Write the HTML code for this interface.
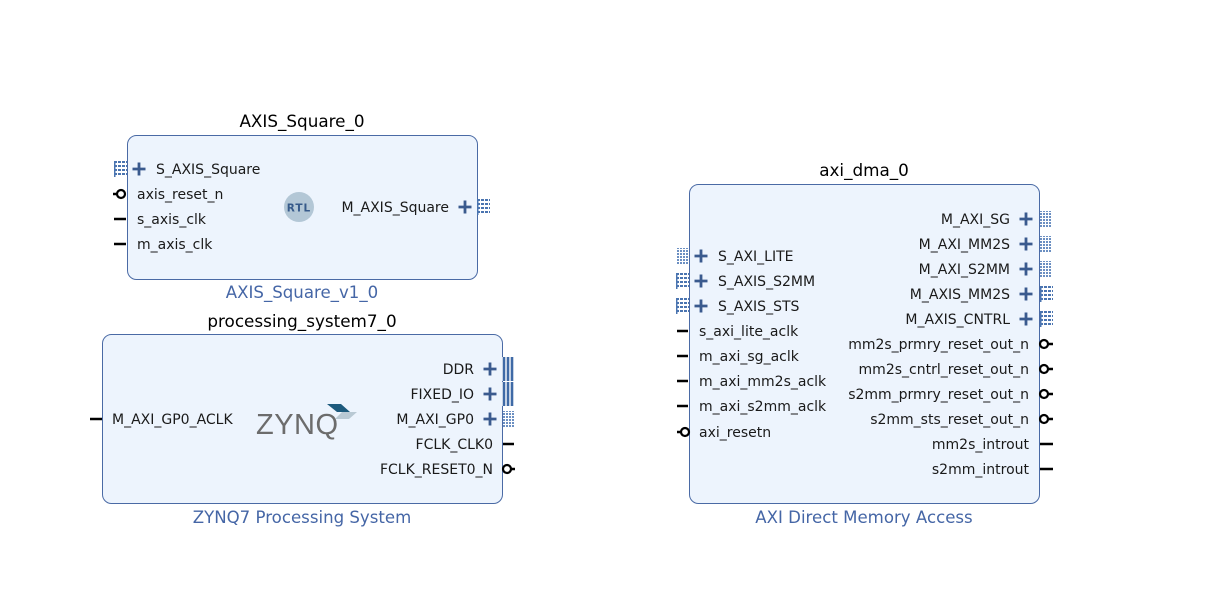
<!DOCTYPE html>
<html><head><meta charset="utf-8"><style>
html,body{margin:0;padding:0;background:#fff;}
svg{display:block;font-family:"DejaVu Sans","Liberation Sans",sans-serif;}
.p{font-size:14px;fill:#1a1a1a;}
.t{font-size:16.8px;fill:#000;text-anchor:middle;}
.s{font-size:16.6px;fill:#4566a6;text-anchor:middle;}
.r{text-anchor:end;}
.blk{fill:#edf4fd;stroke:#4a6aa5;stroke-width:1;}
</style></head><body>
<svg width="1217" height="612" viewBox="0 0 1217 612" xmlns="http://www.w3.org/2000/svg">
<defs>
<pattern id="dots" width="4" height="4" patternUnits="userSpaceOnUse">
<rect width="4" height="4" fill="#fff"/><rect width="3" height="2" fill="#4a74b0"/>
</pattern>
<pattern id="dots2" width="3" height="3" patternUnits="userSpaceOnUse">
<rect width="3" height="3" fill="#fff"/><rect width="2" height="2" fill="#6b8fc2"/>
</pattern>
<g id="plus"><path d="M-6.5 0H6.5M0 -6.5V6.5" stroke="#3a5a8e" stroke-width="2.8"/></g>
<g id="bus"><rect x="0" y="-8" width="13" height="16" fill="url(#dots)"/><rect x="0" y="-8" width="1.5" height="16" fill="#4a74b0"/></g>
<g id="busl"><rect x="0" y="-8" width="12" height="16" fill="url(#dots2)"/></g>
<g id="solid"><rect x="0" y="-12" width="13" height="24" fill="#fff"/><path d="M2 -12V12M6 -12V12M10 -12V12" stroke="#3f6aa6" stroke-width="2.6"/></g>
<g id="circ"><circle cx="0" cy="0" r="4" fill="#fff" stroke="#000" stroke-width="2.2"/></g>
</defs>

<!-- AXIS_Square_0 -->
<text class="t" x="302" y="127">AXIS_Square_0</text>
<rect class="blk" x="127.5" y="135.5" width="350" height="144" rx="9"/>
<text class="s" x="302" y="298">AXIS_Square_v1_0</text>
<use href="#bus" x="114" y="169"/><use href="#plus" x="139" y="169"/>
<text class="p" x="156" y="174">S_AXIS_Square</text>
<path d="M113 194H118" stroke="#000" stroke-width="2.5"/><use href="#circ" x="121" y="194"/>
<text class="p" x="137" y="199">axis_reset_n</text>
<path d="M114 219H126M114 244H126" stroke="#000" stroke-width="2.5"/>
<text class="p" x="137" y="224">s_axis_clk</text>
<text class="p" x="137" y="249">m_axis_clk</text>
<circle cx="299" cy="207" r="15" fill="#b3c7d6"/>
<text x="299" y="211.5" font-size="10.5" font-weight="bold" fill="#365a8a" text-anchor="middle" letter-spacing="1">RTL</text>
<text class="p r" x="449" y="212">M_AXIS_Square</text>
<use href="#plus" x="465" y="207"/><use href="#bus" x="477" y="207"/>

<!-- processing_system7_0 -->
<text class="t" x="302" y="327">processing_system7_0</text>
<rect class="blk" x="102.5" y="334.5" width="400" height="169" rx="9"/>
<text class="s" x="302" y="523">ZYNQ7 Processing System</text>
<path d="M90 419H102" stroke="#000" stroke-width="2.5"/>
<text class="p" x="112" y="424">M_AXI_GP0_ACLK</text>
<text x="256" y="434" font-size="29" fill="#6c6c6c" font-family="Liberation Sans,sans-serif" letter-spacing="0.5">ZYNQ</text>
<polygon points="327,404 341,404 350,412 337,412" fill="#1d5a7d"/>
<polygon points="342,412 357,412 349,419 335,419" fill="#b9c9d4"/>
<text class="p r" x="474" y="374">DDR</text>
<text class="p r" x="474" y="399">FIXED_IO</text>
<text class="p r" x="474" y="424">M_AXI_GP0</text>
<text class="p r" x="493" y="449">FCLK_CLK0</text>
<text class="p r" x="493" y="474">FCLK_RESET0_N</text>
<use href="#plus" x="490" y="369"/><use href="#plus" x="490" y="394"/><use href="#plus" x="490" y="419"/>
<use href="#solid" x="502" y="369"/><use href="#solid" x="502" y="394"/>
<use href="#busl" x="503" y="419"/>
<path d="M503 444H514" stroke="#000" stroke-width="2.5"/>
<use href="#circ" x="507" y="469"/><path d="M511 469H515" stroke="#000" stroke-width="2.5"/>

<!-- axi_dma_0 -->
<text class="t" x="864" y="176">axi_dma_0</text>
<rect class="blk" x="689.5" y="184.5" width="350" height="319" rx="9"/>
<text class="s" x="864" y="523">AXI Direct Memory Access</text>
<use href="#busl" x="677" y="256"/><use href="#bus" x="676" y="281"/><use href="#bus" x="676" y="306"/>
<use href="#plus" x="701" y="256"/><use href="#plus" x="701" y="281"/><use href="#plus" x="701" y="306"/>
<text class="p" x="718" y="261">S_AXI_LITE</text>
<text class="p" x="718" y="286">S_AXIS_S2MM</text>
<text class="p" x="718" y="311">S_AXIS_STS</text>
<path d="M677 331H688M677 356H688M677 381H688M677 406H688" stroke="#000" stroke-width="2.5"/>
<use href="#circ" x="685" y="432"/><path d="M677 432H681" stroke="#000" stroke-width="2.5"/>
<text class="p" x="699" y="336">s_axi_lite_aclk</text>
<text class="p" x="699" y="361">m_axi_sg_aclk</text>
<text class="p" x="699" y="386">m_axi_mm2s_aclk</text>
<text class="p" x="699" y="411">m_axi_s2mm_aclk</text>
<text class="p" x="699" y="437">axi_resetn</text>
<text class="p r" x="1010" y="224">M_AXI_SG</text>
<text class="p r" x="1010" y="249">M_AXI_MM2S</text>
<text class="p r" x="1010" y="274">M_AXI_S2MM</text>
<text class="p r" x="1010" y="299">M_AXIS_MM2S</text>
<text class="p r" x="1010" y="324">M_AXIS_CNTRL</text>
<use href="#plus" x="1026" y="219"/><use href="#plus" x="1026" y="244"/><use href="#plus" x="1026" y="269"/><use href="#plus" x="1026" y="294"/><use href="#plus" x="1026" y="319"/>
<use href="#busl" x="1040" y="219"/><use href="#busl" x="1040" y="244"/><use href="#busl" x="1040" y="269"/>
<use href="#bus" x="1040" y="294"/><use href="#bus" x="1040" y="319"/>
<text class="p r" x="1029" y="349">mm2s_prmry_reset_out_n</text>
<text class="p r" x="1029" y="374">mm2s_cntrl_reset_out_n</text>
<text class="p r" x="1029" y="399">s2mm_prmry_reset_out_n</text>
<text class="p r" x="1029" y="424">s2mm_sts_reset_out_n</text>
<text class="p r" x="1029" y="449">mm2s_introut</text>
<text class="p r" x="1029" y="474">s2mm_introut</text>
<use href="#circ" x="1044" y="344"/><use href="#circ" x="1044" y="369"/><use href="#circ" x="1044" y="394"/><use href="#circ" x="1044" y="419"/>
<path d="M1048 344H1053M1048 369H1053M1048 394H1053M1048 419H1053M1040 444H1053M1040 469H1053" stroke="#000" stroke-width="2.5"/>
</svg>
</body></html>
